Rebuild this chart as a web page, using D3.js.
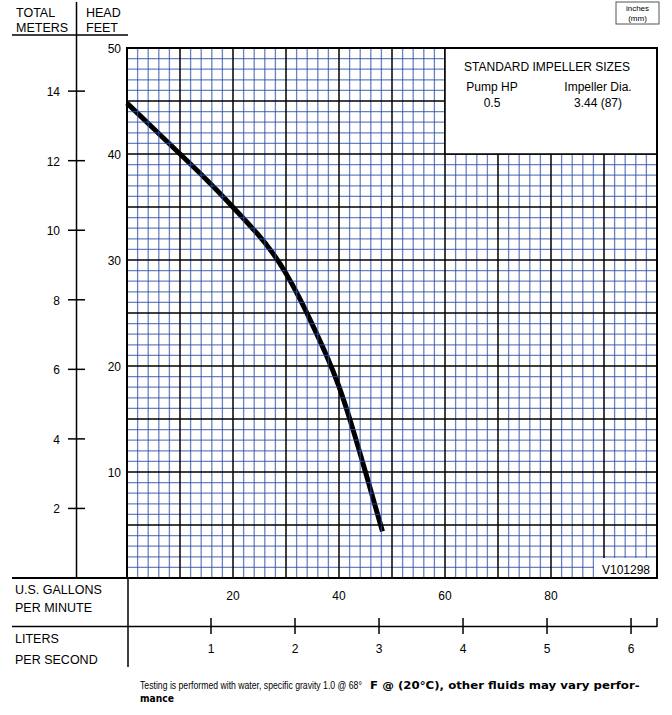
<!DOCTYPE html>
<html>
<head>
<meta charset="utf-8">
<script src="https://cdn.jsdelivr.net/npm/d3@7/dist/d3.min.js"></script>
<style>
  html, body { margin: 0; padding: 0; background: #fff; }
  svg { display: block; font-family: "Liberation Sans", Arial, sans-serif; }
</style>
</head>
<body>
<svg id="chart" width="672" height="715"></svg>
<script>
// ---- data ----
const flowGpm = [0, 5, 10, 15, 20, 25, 27.5, 30, 32.5, 35, 37.5, 40, 42.5, 45, 48.2];
const headFt  = [44.8, 42.4, 40.0, 37.6, 35.0, 32.3, 30.7, 28.8, 26.5, 23.9, 21.2, 18.2, 14.3, 10.0, 4.4];
const gpmTicks = [20, 40, 60, 80];
const lpsTicks = [1, 2, 3, 4, 5, 6];
const feetTicks = [10, 20, 30, 40, 50];
const meterTicks = [2, 4, 6, 8, 10, 12, 14];
const legendTitle = "STANDARD IMPELLER SIZES";
const legendHeaders = ["Pump HP", "Impeller Dia."];
const legendValues = ["0.5", "3.44 (87)"];
const modelCode = "V101298";

const GPM_PER_LPS = 15.850323;
const FT_PER_M = 3.28084;

const svg = d3.select("#chart");
const x = d3.scaleLinear().domain([0, 100]).range([127, 657]);
const y = d3.scaleLinear().domain([0, 50]).range([578, 48]);
const xL = d3.scaleLinear().domain([0, 100 / GPM_PER_LPS]).range([127, 657]);
const yM = d3.scaleLinear().domain([0, 50 / FT_PER_M]).range([578, 48]);

// ---- curve (drawn under the grid) ----
const pts = flowGpm.map((g, i) => [g, headFt[i]]);
const line = d3.line().x(d => x(d[0])).y(d => y(d[1])).curve(d3.curveBasis);
svg.append("path").attr("d", line(pts))
  .attr("fill", "none").attr("stroke", "#000").attr("stroke-width", 5)
  .attr("stroke-linecap", "butt");

// ---- grid ----
const g = svg.append("g");
const minorX = d3.range(2, 100, 2).filter(v => v % 10 !== 0);
const minorY = d3.range(1, 50, 1).filter(v => v % 5 !== 0);
g.selectAll(".mx").data(minorX).join("line")
  .attr("x1", d => x(d)).attr("x2", d => x(d)).attr("y1", y(0)).attr("y2", y(50))
  .attr("stroke", "#2a4ea6").attr("stroke-opacity", 0.7).attr("stroke-width", 1.3);
g.selectAll(".my").data(minorY).join("line")
  .attr("y1", d => y(d)).attr("y2", d => y(d)).attr("x1", x(0)).attr("x2", x(100))
  .attr("stroke", "#2a4ea6").attr("stroke-opacity", 0.7).attr("stroke-width", 1.3);
const majorX = d3.range(10, 100, 10);
const majorY = d3.range(5, 50, 5);
g.selectAll(".Mx").data(majorX).join("line")
  .attr("x1", d => x(d)).attr("x2", d => x(d)).attr("y1", y(0)).attr("y2", y(50))
  .attr("stroke", "#000").attr("stroke-width", 1.5);
g.selectAll(".My").data(majorY).join("line")
  .attr("y1", d => y(d)).attr("y2", d => y(d)).attr("x1", x(0)).attr("x2", x(100))
  .attr("stroke", "#000").attr("stroke-width", 1.5);

// ---- legend box ----
svg.append("rect").attr("x", x(60)).attr("y", y(50)).attr("width", x(100) - x(60)).attr("height", y(40) - y(50))
  .attr("fill", "#fff").attr("stroke", "#000").attr("stroke-width", 1.5);
svg.append("text").attr("x", 547).attr("y", 71).attr("text-anchor", "middle")
  .attr("font-size", 12).text(legendTitle);
const colX = [492, 598];
legendHeaders.forEach((h, i) => {
  svg.append("text").attr("x", colX[i]).attr("y", 91).attr("text-anchor", "middle").attr("font-size", 12).text(h);
  svg.append("text").attr("x", colX[i]).attr("y", 107).attr("text-anchor", "middle").attr("font-size", 12).text(legendValues[i]);
});

// ---- model code box ----
svg.append("rect").attr("x", 594).attr("y", 558).attr("width", 63).attr("height", 20)
  .attr("fill", "#fff").attr("stroke", "none");
svg.append("text").attr("x", 626).attr("y", 574).attr("text-anchor", "middle").attr("font-size", 12).text(modelCode);

// ---- plot border ----
svg.append("rect").attr("x", x(0)).attr("y", y(50)).attr("width", x(100) - x(0)).attr("height", y(0) - y(50))
  .attr("fill", "none").attr("stroke", "#000").attr("stroke-width", 2);

// ---- inches box ----
svg.append("rect").attr("x", 616).attr("y", 2).attr("width", 43).attr("height", 22)
  .attr("fill", "#fff").attr("stroke", "#555").attr("stroke-width", 1);
svg.append("text").attr("x", 637.5).attr("y", 11).attr("text-anchor", "middle").attr("font-size", 8).text("inches");
svg.append("text").attr("x", 637.5).attr("y", 21).attr("text-anchor", "middle").attr("font-size", 8).text("(mm)");

// ---- header ----
const stroke = (x1, y1, x2, y2, w) => svg.append("line").attr("x1", x1).attr("y1", y1).attr("x2", x2).attr("y2", y2)
  .attr("stroke", "#000").attr("stroke-width", w || 1.5);
svg.append("text").attr("x", 16).attr("y", 17).attr("font-size", 12.5).text("TOTAL");
svg.append("text").attr("x", 16).attr("y", 32).attr("font-size", 12.5).text("METERS");
svg.append("text").attr("x", 86).attr("y", 17).attr("font-size", 12.5).text("HEAD");
svg.append("text").attr("x", 86).attr("y", 32).attr("font-size", 12.5).text("FEET");
stroke(12, 35, 128, 35);
stroke(76.5, 2, 76.5, 578);

// feet labels
svg.selectAll(".ft").data(feetTicks).join("text")
  .attr("x", 121).attr("y", d => y(d) + 5).attr("text-anchor", "end").attr("font-size", 12).text(d => d);

// meters ticks
svg.selectAll(".mt").data(meterTicks).join("line")
  .attr("x1", 68).attr("x2", 85).attr("y1", d => yM(d)).attr("y2", d => yM(d))
  .attr("stroke", "#000").attr("stroke-width", 1.5);
svg.selectAll(".ml").data(meterTicks).join("text")
  .attr("x", 60).attr("y", d => yM(d) + 5).attr("text-anchor", "end").attr("font-size", 12).text(d => d);

// ---- bottom axes ----
stroke(12, 578, 128, 578, 2);
svg.append("text").attr("x", 15).attr("y", 594).attr("font-size", 12.5).text("U.S. GALLONS");
svg.append("text").attr("x", 15).attr("y", 612).attr("font-size", 12.5).text("PER MINUTE");
svg.selectAll(".gl").data(gpmTicks).join("text")
  .attr("x", d => x(d)).attr("y", 600).attr("text-anchor", "middle").attr("font-size", 12).text(d => d);

stroke(12, 626.5, 657, 626.5);
stroke(128, 578, 128, 667);
svg.selectAll(".lt").data(lpsTicks).join("line")
  .attr("x1", d => xL(d)).attr("x2", d => xL(d)).attr("y1", 618).attr("y2", 634)
  .attr("stroke", "#000").attr("stroke-width", 1.5);
stroke(657, 618, 657, 627);
svg.selectAll(".ll").data(lpsTicks).join("text")
  .attr("x", d => xL(d)).attr("y", 653).attr("text-anchor", "middle").attr("font-size", 12).text(d => d);
svg.append("text").attr("x", 15).attr("y", 643).attr("font-size", 12.5).text("LITERS");
svg.append("text").attr("x", 15).attr("y", 664).attr("font-size", 12.5).text("PER SECOND");

// ---- footnote (horizontally fitted to the reference widths) ----
function fitted(tx, ty, w, txt, bold) {
  const t = svg.append("text").attr("x", 0).attr("y", 0).attr("font-size", 10.5).text(txt);
  if (bold) t.attr("font-weight", "bold").attr("font-family", "'DejaVu Sans', sans-serif");
  const nat = t.node().getComputedTextLength();
  t.attr("transform", `translate(${tx},${ty}) scale(${w / nat},1)`);
  return t;
}
fitted(140, 689, 222, "Testing is performed with water, specific gravity 1.0 @ 68°", false);
fitted(370, 689, 270, "F @ (20°C), other fluids may vary perfor-", true);
fitted(140, 702, 34, "mance", true);
</script>
</body>
</html>
